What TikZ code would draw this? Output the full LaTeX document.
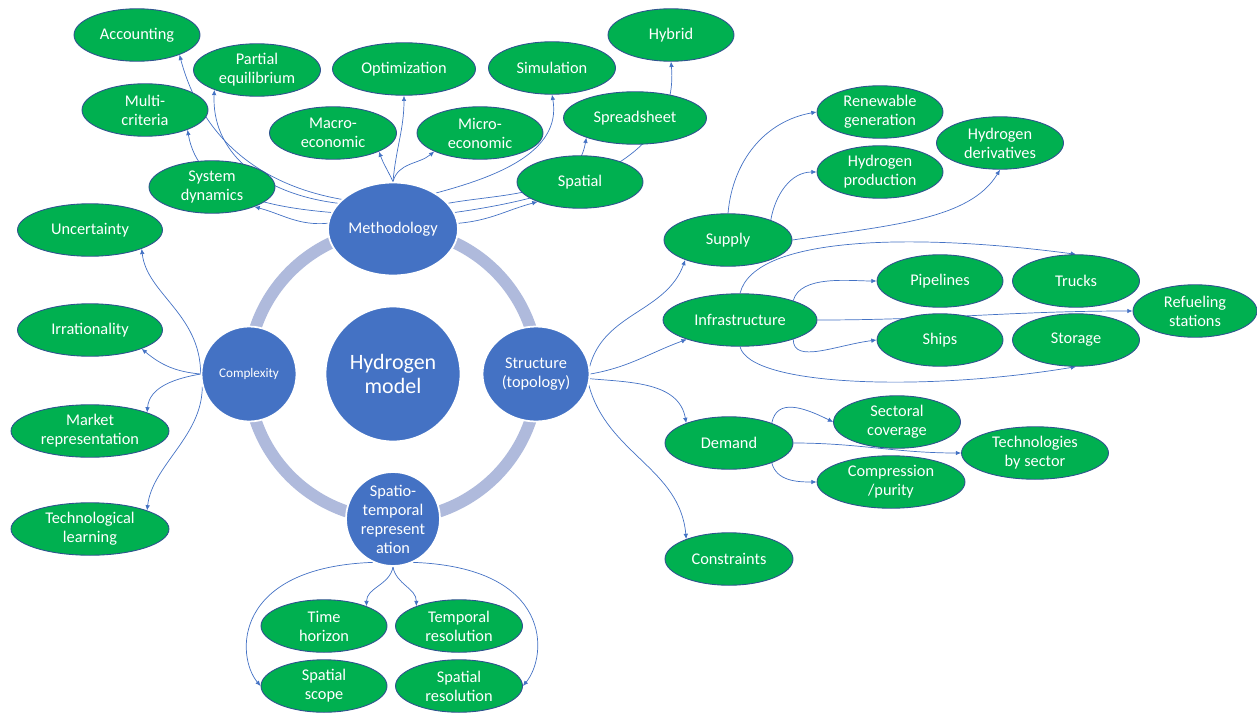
\documentclass[tikz,border=0pt]{standalone}
\usepackage{fontspec}
\setmainfont{Carlito}
\usepackage{tikz}
\usetikzlibrary{shapes.geometric,arrows.meta,backgrounds}

\definecolor{leafgreen}{HTML}{00B050}
\definecolor{leafline}{HTML}{2F528F}
\definecolor{hubblue}{HTML}{4472C4}
\definecolor{ringblue}{HTML}{AFBADC}
\definecolor{linkblue}{HTML}{4472C4}

\begin{document}
\begin{tikzpicture}[x=0.02cm,y=0.02cm,
    leaf/.style={ellipse,fill=leafgreen,draw=leafline,line width=.5pt,text=white,
      minimum width=2.52cm,minimum height=1.05cm,inner sep=0pt,align=center,
      font=\fontsize{9.3}{10.8}\selectfont},
    hub/.style={ellipse,fill=hubblue,draw=white,line width=1pt,text=white,
      inner sep=0pt,align=center,font=\fontsize{9.3}{10.8}\selectfont},
    link/.style={draw=linkblue,line width=.4pt,-{Latex[length=3pt,width=2.6pt]}}]
    \useasboundingbox (0,0) rectangle (1257,-713);

    % centre and the four branches
    \node[hub,minimum width=2.7cm,minimum height=2.7cm,font=\fontsize{12.5}{13.5}\selectfont] (hm) at (393,-374) {Hydrogen\\model};
    \node[hub,minimum width=2.6cm,minimum height=1.86cm] (meth) at (393,-229) {Methodology};
    \node[hub,minimum width=1.9cm,minimum height=1.9cm,font=\fontsize{7.5}{9}\selectfont] (cplx) at (249,-374) {Complexity};
    \node[hub,minimum width=2.14cm,minimum height=1.9cm] (struct) at (536,-374) {Structure\\(topology)};
    \node[hub,minimum width=1.88cm,minimum height=1.88cm,inner sep=-4pt] (spt) at (393,-519) {Spatio-\\temporal\\represent\\ation};

    % methodology
    \node[leaf] (acc) at (137,-35) {Accounting};
    \node[leaf,minimum width=2.54cm] (peq) at (257,-70) {Partial\\equilibrium};
    \node[leaf,minimum width=2.86cm] (opt) at (404,-69) {Optimization};
    \node[leaf,minimum width=2.54cm] (sim) at (552,-68) {Simulation};
    \node[leaf] (hyb) at (671,-35) {Hybrid};
    \node[leaf] (mcr) at (145,-110) {Multi-\\criteria};
    \node[leaf,minimum width=2.54cm] (macro) at (333,-133) {Macro-\\economic};
    \node[leaf] (micro) at (480,-133) {Micro-\\economic};
    \node[leaf,minimum width=2.86cm] (sprd) at (635,-118) {Spreadsheet};
    \node[leaf] (sysd) at (212,-187) {System\\dynamics};
    \node[leaf] (spat) at (580,-182) {Spatial};

    % complexity
    \node[leaf,minimum width=2.9cm] (unc) at (90,-230) {Uncertainty};
    \node[leaf,minimum width=2.9cm] (irr) at (90,-330) {Irrationality};
    \node[leaf,minimum width=3.16cm] (mkt) at (90,-431) {Market\\representation};
    \node[leaf,minimum width=3.16cm] (tlearn) at (90,-529) {Technological\\learning};

    % structure
    \node[leaf,minimum width=2.56cm] (sup) at (728,-240) {Supply};
    \node[leaf] (renew) at (880,-112) {Renewable\\generation};
    \node[leaf,minimum width=2.54cm] (hder) at (1000,-143) {Hydrogen\\derivatives};
    \node[leaf] (hprod) at (880,-172) {Hydrogen\\production};
    \node[leaf,minimum width=3.08cm] (infra) at (740,-320) {Infrastructure};
    \node[leaf] (pipe) at (940,-281) {Pipelines};
    \node[leaf,minimum width=2.54cm] (truck) at (1076,-281) {Trucks};
    \node[leaf,minimum width=2.48cm] (refuel) at (1195,-311) {Refueling\\stations};
    \node[leaf] (ship) at (940,-340) {Ships};
    \node[leaf,minimum width=2.54cm] (store) at (1076,-340) {Storage};
    \node[leaf,minimum width=2.56cm] (dem) at (729,-443) {Demand};
    \node[leaf,minimum width=2.54cm] (sect) at (897,-422) {Sectoral\\coverage};
    \node[leaf,minimum width=2.94cm] (tech) at (1035,-453) {Technologies\\by sector};
    \node[leaf,minimum width=2.96cm] (comp) at (891,-482) {Compression\\/purity};
    \node[leaf,minimum width=2.56cm] (cons) at (729,-559) {Constraints};

    % spatio-temporal
    \node[leaf] (thor) at (324,-626) {Time\\horizon};
    \node[leaf,minimum width=2.54cm] (tres) at (459,-626) {Temporal\\resolution};
    \node[leaf] (sscope) at (324,-686) {Spatial\\scope};
    \node[leaf,minimum width=2.54cm] (sres) at (459,-686) {Spatial\\resolution};

    \begin{scope}[on background layer]
    \draw[ringblue,line width=0.24cm] (hm.center) circle (145);

    \draw[link] (meth.150) to[out=170,in=-75] (acc.-25);
    \draw[link] (meth.155) .. controls +(-80,10) and +(-3,-60) .. (peq.-155);
    \draw[link] (meth.165) to[out=175,in=-80] (mcr.-25);
    \draw[link] (meth.175) to[out=185,in=-15] (sysd.-25);
    \draw[link] (meth.north) to[out=115,in=-70] (macro.-22);
    \draw[link] (meth.north) to[out=85,in=-90] (opt.south);
    \draw[link] (meth.north) to[out=75,in=-140] (micro.-158);
    \draw[link] (meth.40) to[out=15,in=-80] (sim.south);
    \draw[link] (meth.25) to[out=10,in=-100] (sprd.-158);
    \draw[link] (meth.15) to[out=8,in=-85] (hyb.south);
    \draw[link] (meth.5) to[out=5,in=-165] (spat.-155);

    \draw[link] (cplx.west) .. controls +(0,60) and +(5,-45) .. (unc.-20);
    \draw[link] (cplx.west) to[out=175,in=-40] (irr.-20);
    \draw[link] (cplx.west) to[out=190,in=85] (mkt.18);
    \draw[link] (cplx.195) .. controls +(0,-50) and +(5,45) .. (tlearn.18);

    \draw[link] (struct.8) to[out=75,in=-110] (sup.-155);
    \draw[link] (struct.east) to[out=10,in=-160] (infra.-160);
    \draw[link] (struct.-5) to[out=-5,in=100] (dem.155);
    \draw[link] (struct.-12) to[out=-75,in=95] (cons.155);

    \draw[link] (sup.north) to[out=85,in=190] (renew.west);
    \draw[link] (sup.25) to[out=80,in=180] (hprod.west);
    \draw[link] (sup.east) .. controls +(100,15) and +(-30,-50) .. (hder.south);

    \draw[link] (infra.north) .. controls +(15,60) and +(-150,20) .. (truck.north);
    \draw[link] (infra.20) to[out=75,in=180,looseness=.8] (pipe.west);
    \draw[link] (infra.east) to[out=0,in=180] (refuel.west);
    \draw[link] (infra.-20) .. controls +(0,-25) and +(-40,-5) .. (ship.west);
    \draw[link] (infra.south) .. controls +(10,-40) and +(-150,-25) .. (store.south);

    \draw[link] (dem.25) .. controls +(5,25) and +(-30,15) .. (sect.west);
    \draw[link] (dem.east) to[out=0,in=180] (tech.west);
    \draw[link] (dem.-25) to[out=-75,in=180] (comp.west);

    \draw[link] (spt.south) to[out=-100,in=90] (thor.25);
    \draw[link] (spt.south) to[out=-80,in=90] (tres.155);
    \draw[link] (spt.245) .. controls +(-140,-5) and +(-25,30) .. (sscope.west);
    \draw[link] (spt.295) .. controls +(140,-5) and +(25,30) .. (sres.east);
    \end{scope}
\end{tikzpicture}
\end{document}
